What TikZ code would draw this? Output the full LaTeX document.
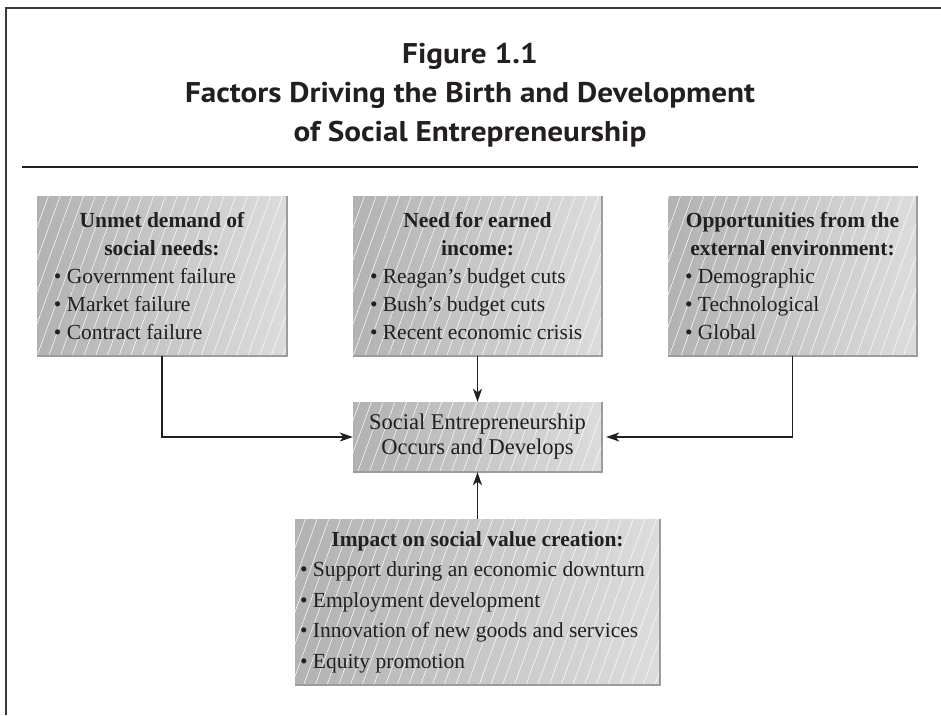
\documentclass[tikz,border=0pt]{standalone}
\usepackage{fontspec}
\setmainfont{Liberation Serif}
\newfontfamily\titlefont{PT Sans}
\usetikzlibrary{arrows.meta,patterns.meta}
\definecolor{boxL}{HTML}{B2B2B2}
\definecolor{boxR}{HTML}{DCDCDC}
\definecolor{boxEdge}{HTML}{9C9C9C}
\definecolor{txt}{HTML}{231F20}
\definecolor{frameC}{HTML}{3A3A3A}
\newsavebox\ttlbox
\AtBeginDocument{%
  \sbox\ttlbox{\titlefont\bfseries\fontsize{28.5}{39}\selectfont Factors Driving the Birth and Development}%
  \pgfmathsetmacro\tfac{570/\the\wd\ttlbox}%
  \global\let\tfac\tfac}
\newcommand\tline[1]{\scalebox{\tfac}[1]{#1}}
% #1 minipage width, #2 bullet indent, #3 title, #4 items
\newcommand\boxtext[4]{\begin{minipage}{#1}\centering\bfseries #3\par\raggedright\leftskip=#2\mdseries #4\end{minipage}}
\newcommand\bul{\textbullet~}
\tikzset{
  shadebox/.style={rectangle, inner sep=0pt, left color=boxL, right color=boxR, text=txt,
    font=\fontsize{21.5}{28}\selectfont,
    postaction={pattern={Lines[angle=70,distance=11pt,line width=0.5pt]}, pattern color=white, fill opacity=0.22}},
  edgeline/.style={boxEdge, line width=1.6pt},
  conn/.style={line width=1.4pt, txt, -{Stealth[length=13pt,width=9pt,inset=3.5pt]}},
  titlestyle/.style={text=txt, anchor=base, inner sep=0pt, font=\titlefont\bfseries\fontsize{28.5}{39}\selectfont},
}
\begin{document}
\begin{tikzpicture}[x=1pt,y=-1pt]
\useasboundingbox (0,0) rectangle (941,715);
\fill[white] (0,0) rectangle (941,715);
% frame
\draw[frameC, line width=2pt] (6,715) -- (6,8) -- (941,8);
% title
\node[titlestyle] (t1) at (470,63.3) {\tline{Figure 1.1}};
\node[titlestyle] (t2) at (470,102.7) {\tline{Factors Driving the Birth and Development}};
\node[titlestyle] (t3) at (470,141.7) {\tline{of Social Entrepreneurship}};
\draw[txt, line width=1.4pt] (22,167) -- (918,167);
% boxes
\node[shadebox, minimum width=250pt, minimum height=160pt] (b1) at (162,276)
  {\boxtext{234pt}{9pt}{Unmet demand of\\ social needs:}{\bul Government failure\\ \bul Market failure\\ \bul Contract failure}};
\node[shadebox, minimum width=249pt, minimum height=160pt] (b2) at (477.5,276)
  {\boxtext{233pt}{9pt}{Need for earned\\ income:}{\bul Reagan's budget cuts\\ \bul Bush's budget cuts\\ \bul Recent economic crisis}};
\node[shadebox, minimum width=249pt, minimum height=160pt] (b3) at (792.5,276)
  {\boxtext{233pt}{9pt}{Opportunities from the\\ external environment:}{\bul Demographic\\ \bul Technological\\ \bul Global}};
\node[shadebox, minimum width=249pt, minimum height=70pt, align=center, font=\fontsize{22.5}{25}\selectfont] (mid) at (477.5,437)
  {Social Entrepreneurship\\ Occurs and Develops};
\node[shadebox, minimum width=365pt, minimum height=166pt, font=\fontsize{21.5}{30.5}\selectfont] (b4) at (477.5,602)
  {\boxtext{355pt}{0pt}{Impact on social value creation:}{\bul Support during an economic downturn\\ \bul Employment development\\ \bul Innovation of new goods and services\\ \bul Equity promotion}};
% box edges
\foreach \b in {b1,b2,b3,mid,b4}
  \draw[edgeline] (\b.north east) -- (\b.south east) -- (\b.south west);
% connectors
\draw[conn] (b1.south) |- (mid.west);
\draw[conn] (b3.south) |- ([xshift=4pt]mid.east);
\draw[conn] (b2.south) -- (mid.north);
\draw[conn] (b4.north) -- (mid.south);
\end{tikzpicture}
\end{document}
